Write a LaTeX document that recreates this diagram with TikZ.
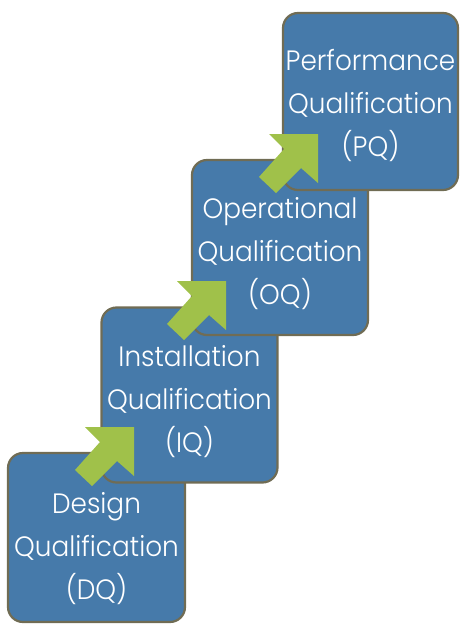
\documentclass[tikz,border=0pt]{standalone}
\usepackage{fontspec}
\setmainfont{Poppins Light}[FakeStretch=0.94]
\definecolor{boxfill}{RGB}{70,122,170}
\definecolor{boxline}{RGB}{112,108,84}
\definecolor{arrowgreen}{RGB}{160,193,74}
\begin{document}
\begin{tikzpicture}[x=1pt,y=-1pt,
  stagebox/.style={draw=boxline,fill=boxfill,line width=2.2pt,rounded corners=15pt,
    minimum width=176pt,minimum height=175pt,inner sep=0pt},
  stagetext/.style={text=white,align=center,font=\fontsize{28}{43}\selectfont,inner sep=0pt},
  uparrow/.style={fill=arrowgreen,draw=none}]
\useasboundingbox (0,0) rectangle (459,624);
\node[stagebox,minimum width=177pt,minimum height=169pt] (dq) at (96.5,537.5) {};
\node[stagebox] (iq) at (189.5,395) {};
\node[stagebox] (oq) at (280,247.5) {};
\node[stagebox,minimum width=175pt,minimum height=177pt] (pq) at (370.5,101.5) {};
\node[stagetext] (dqt) at (96.5,549) {Design\\Qualification\\(DQ)};
\node[stagetext] (iqt) at (189.5,402) {Installation\\Qualification\\(IQ)};
\node[stagetext] (oqt) at (280,254) {Operational\\Qualification\\(OQ)};
\node[stagetext] (pqt) at (370.5,106) {Performance\\Qualification\\(PQ)};
\coordinate (a1) at (134,427);
\coordinate (a2) at (226,281);
\coordinate (a3) at (318,134);
\foreach \t in {a1,a2,a3}{
  \fill[uparrow] (\t) -- ++(-49,0) -- ++(15,15) -- ++(-25,28) -- ++(17,16) -- ++(25,-25) -- ++(17,15) -- cycle;
}
\end{tikzpicture}
\end{document}
